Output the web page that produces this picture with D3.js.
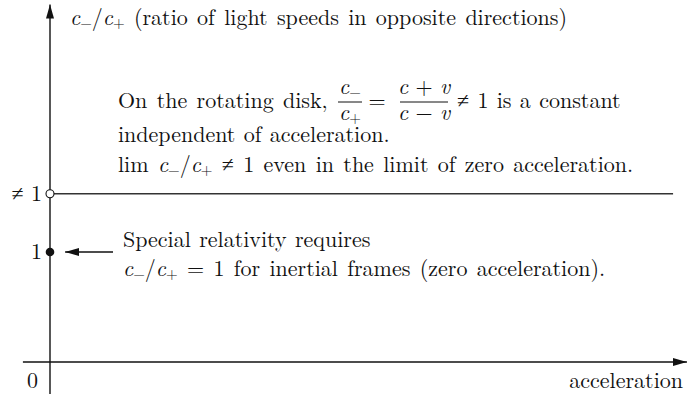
<!DOCTYPE html>
<html>
<head>
<meta charset="utf-8">
<script src="https://cdn.jsdelivr.net/npm/d3@7"></script>
<style>
  body { margin: 0; background: #fff; }
</style>
</head>
<body>
<svg id="chart" width="687" height="394"></svg>
<script>
// values of the sketch (ratio c-/c+ against acceleration)
var axisRange = [-4.3, 101.1];      // acceleration axis extent
var ratioRange = [-0.29, 3.25];     // ratio axis extent
var rotatingLevel = 1.53;           // "≠ 1" level drawn above 1
var inertialLevel = 1;              // special relativity value
var yTickValues = [0, inertialLevel, rotatingLevel];
var yTickLabels = ["0", "1", "\u2260 1"];
var lineX = [0, 98.9];              // extent of the ≠1 line

var svg = d3.select("#chart"),
    width = +svg.attr("width"),
    height = +svg.attr("height");

var x = d3.scaleLinear().domain([0, 100]).range([50, 680]);
var y = d3.scaleLinear().domain([0, 1]).range([362, 252]);
var fs = 22, ss = 15;

var defs = svg.append("defs");
defs.append("marker")
    .attr("id", "tip")
    .attr("viewBox", "0 0 14 8")
    .attr("refX", 14).attr("refY", 4)
    .attr("markerWidth", 14).attr("markerHeight", 8)
    .attr("markerUnits", "userSpaceOnUse")
    .attr("orient", "auto")
  .append("path")
    .attr("d", "M0,0 L14,4 L0,8 Z")
    .attr("fill", "#111");

var g = svg.append("g")
    .attr("fill", "#111")
    .style("font-family", "'Latin Modern Roman', 'Liberation Serif', serif");

// axes
g.append("line")
    .attr("x1", x(axisRange[0])).attr("x2", x(axisRange[1]))
    .attr("y1", y(0)).attr("y2", y(0))
    .attr("stroke", "#111").attr("stroke-width", 1.4)
    .attr("marker-end", "url(#tip)");
g.append("line")
    .attr("x1", x(0)).attr("x2", x(0))
    .attr("y1", y(ratioRange[0])).attr("y2", y(ratioRange[1]))
    .attr("stroke", "#111").attr("stroke-width", 1.4)
    .attr("marker-end", "url(#tip)");

// constant ratio on the rotating disk
g.append("line")
    .attr("x1", x(lineX[0])).attr("x2", x(lineX[1]))
    .attr("y1", y(rotatingLevel)).attr("y2", y(rotatingLevel))
    .attr("stroke", "#333").attr("stroke-width", 1.4);

// tick labels
g.selectAll(".ytick")
  .data(yTickValues)
  .enter().append("text")
    .attr("class", "ytick")
    .attr("x", function(d) { return d === 0 ? 38 : 42; })
    .attr("y", function(d) { return d === 0 ? 388 : y(d) + 7; })
    .attr("text-anchor", "end")
    .attr("font-size", fs)
    .text(function(d, i) { return yTickLabels[i]; });

// points
g.append("circle")
    .attr("cx", x(0)).attr("cy", y(rotatingLevel)).attr("r", 4)
    .attr("fill", "#fff").attr("stroke", "#111").attr("stroke-width", 1.1);
g.append("circle")
    .attr("cx", x(0)).attr("cy", y(inertialLevel)).attr("r", 4.3)
    .attr("fill", "#111");

// arrow to the inertial point
g.append("line")
    .attr("x1", x(10)).attr("x2", x(2.4))
    .attr("y1", y(inertialLevel)).attr("y2", y(inertialLevel))
    .attr("stroke", "#111").attr("stroke-width", 1.4)
    .attr("marker-end", "url(#tip)");

// c with a small sign below it
function sub(t, s) {
  t.append("tspan").attr("font-style", "italic").text("c");
  t.append("tspan").attr("font-size", ss).attr("dy", 3).text(s);
}
// c-/c+ followed by the rest of the line
function ratio(t, rest) {
  sub(t, "\u2212");
  t.append("tspan").attr("dy", -3).text("/");
  sub(t, "+");
  t.append("tspan").attr("dy", -3).text(" " + rest);
}

// axis titles
var ty = g.append("text").attr("x", 70).attr("y", 25).attr("font-size", fs)
    .attr("word-spacing", 2);
ratio(ty, "(ratio of light speeds in opposite directions)");

g.append("text").attr("x", 683).attr("y", 388).attr("text-anchor", "end")
    .attr("font-size", fs).text("acceleration");

// rotating disk note
g.append("text").attr("x", 118).attr("y", 108).attr("font-size", fs)
    .attr("word-spacing", 2)
    .text("On the rotating disk,");

function frac(xc, num, den, w) {
  var a = g.append("text").attr("x", xc).attr("y", 94).attr("font-size", fs)
      .attr("text-anchor", "middle");
  num(a);
  g.append("line").attr("x1", xc - w / 2).attr("x2", xc + w / 2)
      .attr("y1", 102).attr("y2", 102).attr("stroke", "#111").attr("stroke-width", 1);
  var b = g.append("text").attr("x", xc).attr("y", 120).attr("font-size", fs)
      .attr("text-anchor", "middle");
  den(b);
}
frac(350, function(t) { sub(t, "\u2212"); }, function(t) { sub(t, "+"); }, 24);
g.append("text").attr("x", 377).attr("y", 108).attr("font-size", fs)
    .attr("text-anchor", "middle").text("=");
frac(424, function(t) {
  t.append("tspan").attr("font-style", "italic").text("c");
  t.append("tspan").text(" + ");
  t.append("tspan").attr("font-style", "italic").text("v");
}, function(t) {
  t.append("tspan").attr("font-style", "italic").text("c");
  t.append("tspan").text(" \u2212 ");
  t.append("tspan").attr("font-style", "italic").text("v");
}, 48);
g.append("text").attr("x", 457).attr("y", 108).attr("font-size", fs)
    .attr("word-spacing", 1)
    .text("\u2260 1 is a constant");

g.append("text").attr("x", 118).attr("y", 142).attr("font-size", fs)
    .attr("word-spacing", 1)
    .text("independent of acceleration.");

var t3 = g.append("text").attr("x", 118).attr("y", 172).attr("font-size", fs)
    .attr("word-spacing", 2);
t3.append("tspan").text("lim ");
ratio(t3, "\u2260 1 even in the limit of zero acceleration.");

// special relativity note
g.append("text").attr("x", 123).attr("y", 247).attr("font-size", fs)
    .attr("word-spacing", 1)
    .text("Special relativity requires");
var t5 = g.append("text").attr("x", 123).attr("y", 276).attr("font-size", fs)
    .attr("word-spacing", 2);
ratio(t5, "= 1 for inertial frames (zero acceleration).");
</script>
</body>
</html>
